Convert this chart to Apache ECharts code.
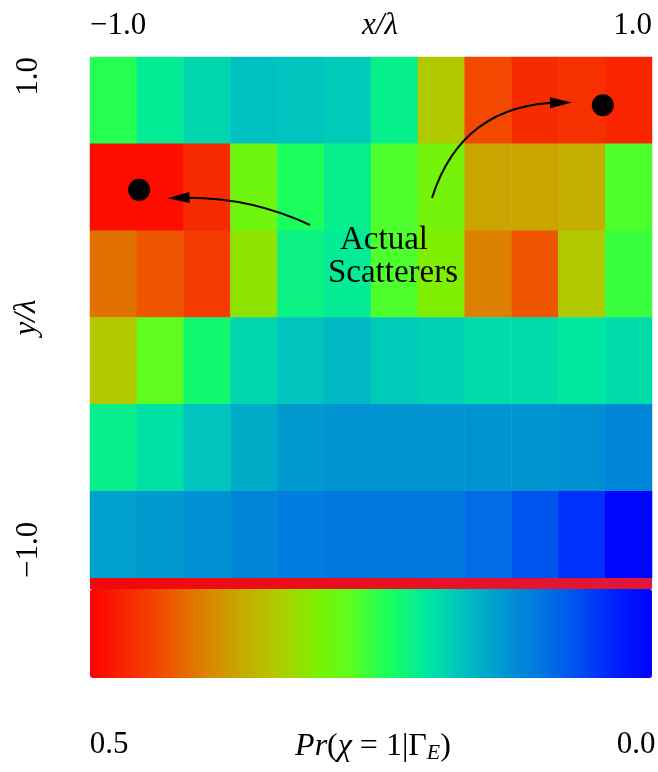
<!DOCTYPE html>
<html>
<head>
<meta charset="utf-8">
<script src="https://cdn.jsdelivr.net/npm/echarts@6/dist/echarts.min.js"></script>
<style>
  html, body { margin: 0; padding: 0; background: #fff; }
  #main { width: 658px; height: 772px; }
</style>
</head>
<body>
<div id="main"></div>
<script>
// heat map cells: 12 columns (left to right) x 6 rows (top to bottom)
var cols = ['c0', 'c1', 'c2', 'c3', 'c4', 'c5', 'c6', 'c7', 'c8', 'c9', 'c10', 'c11'];
var rows = ['r0', 'r1', 'r2', 'r3', 'r4', 'r5'];
var row0 = [0.24, 0.205, 0.185, 0.167, 0.17, 0.175, 0.21, 0.335, 0.44, 0.465, 0.46, 0.47];
var row1 = [0.49, 0.49, 0.465, 0.285, 0.235, 0.21, 0.26, 0.29, 0.37, 0.37, 0.36, 0.26];
var row2 = [0.41, 0.43, 0.45, 0.31, 0.215, 0.205, 0.26, 0.30, 0.40, 0.43, 0.335, 0.25];
var row3 = [0.335, 0.27, 0.225, 0.185, 0.17, 0.16, 0.175, 0.18, 0.19, 0.19, 0.20, 0.19];
var row4 = [0.21, 0.195, 0.17, 0.15, 0.135, 0.13, 0.13, 0.13, 0.13, 0.13, 0.125, 0.115];
var row5 = [0.14, 0.135, 0.125, 0.115, 0.105, 0.10, 0.10, 0.10, 0.09, 0.07, 0.045, 0.005];
var cellRows = [row0, row1, row2, row3, row4, row5];

// scatterer positions and arrows, in x/lambda, y/lambda
var scatterers = [[-0.825, 0.49], [0.825, 0.815]];
var arrowFrom = [[-0.217, 0.355], [0.217, 0.459]];
var arrowTo = [[-0.685, 0.459], [0.676, 0.825]];
var arrowBend = [-0.12, 0.36];

var axisTicks = ['\u22121.0', '1.0'];
var barTicks = ['0.5', '0.0'];

// colour scale from 0.0 (blue) to 0.5 (red)
var palette = ['#0000ff', '#0020ff', '#0050f0', '#0078e0', '#0098d0', '#00c0c0', '#00e8a0', '#18ff60',
  '#5aff20', '#80ee00', '#b0cc00', '#c8a800', '#dc8000', '#f05000', '#f82800', '#ff0000'];

var heat = [];
for (var r = 0; r < cellRows.length; r++) {
  for (var c = 0; c < cols.length; c++) {
    heat.push([c, r, cellRows[r][c]]);
  }
}
var arrows = [];
for (var i = 0; i < arrowFrom.length; i++) {
  arrows.push({ coords: [arrowFrom[i], arrowTo[i]], lineStyle: { curveness: arrowBend[i] } });
}

var serif = 'Liberation Serif';
function tickText(v) {
  return v < 0 ? axisTicks[0] : axisTicks[1];
}

var chart = echarts.init(document.getElementById('main'));
var option = {
  backgroundColor: '#fff',
  animation: false,
  grid: { left: 90, top: 57, width: 562, height: 521, containLabel: false, outerBoundsMode: 'none' },
  xAxis: [
    { type: 'category', data: cols, show: false, position: 'bottom' },
    {
      type: 'value', min: -1, max: 1, interval: 2, position: 'top',
      name: 'x/\u03bb', nameLocation: 'middle', nameGap: 16, nameMoveOverlap: false,
      nameTextStyle: { fontFamily: serif, fontSize: 31, fontStyle: 'italic', color: '#000', padding: [0, 0, 0, 18] },
      axisLine: { show: false }, axisTick: { show: false }, splitLine: { show: false },
      axisLabel: {
        formatter: tickText, margin: 16, fontFamily: serif, fontSize: 31, color: '#000',
        alignMinLabel: 'left', alignMaxLabel: 'right'
      }
    }
  ],
  yAxis: [
    { type: 'category', data: rows, inverse: true, show: false, position: 'right' },
    {
      type: 'value', min: -1, max: 1, interval: 2, position: 'left',
      name: 'y/\u03bb', nameLocation: 'middle', nameGap: 48, nameRotate: 90, nameMoveOverlap: false,
      nameTextStyle: { fontFamily: serif, fontSize: 31, fontStyle: 'italic', color: '#000' },
      axisLine: { show: false }, axisTick: { show: false }, splitLine: { show: false },
      axisLabel: {
        formatter: tickText, rotate: 90, margin: 46, fontFamily: serif, fontSize: 31, color: '#000',
        alignMinLabel: 'left', alignMaxLabel: 'right'
      }
    }
  ],
  visualMap: {
    type: 'continuous', seriesIndex: 0, min: 0, max: 0.5,
    orient: 'horizontal', inverse: true, calculable: false,
    left: 90, top: 589, padding: 0,
    itemWidth: 89, itemHeight: 562,
    text: null, showLabel: false,
    inRange: { color: palette }
  },
  graphic: [
    {
      type: 'rect', shape: { x: 90, y: 578, width: 562, height: 11 }, z: 100,
      style: {
        fill: new echarts.graphic.LinearGradient(0, 0, 1, 0, [
          { offset: 0, color: '#f20808' }, { offset: 1, color: '#e0183a' }
        ])
      }
    },
    { type: 'text', x: 384, y: 240, z: 100, style: { text: 'Actual', font: '33px "' + serif + '"', fill: '#000', align: 'center', verticalAlign: 'middle' } },
    { type: 'text', x: 393, y: 273, z: 100, style: { text: 'Scatterers', font: '33px "' + serif + '"', fill: '#000', align: 'center', verticalAlign: 'middle' } },
    { type: 'text', x: 109, y: 745, style: { text: barTicks[0], font: '31px "' + serif + '"', fill: '#000', align: 'center', verticalAlign: 'middle' } },
    { type: 'text', x: 636, y: 745, style: { text: barTicks[1], font: '31px "' + serif + '"', fill: '#000', align: 'center', verticalAlign: 'middle' } },
    {
      type: 'text', x: 373, y: 747,
      style: {
        text: '{it|Pr}({it|\u03c7} = 1|\u0393{sub|E})',
        font: '32px "' + serif + '"', fill: '#000', align: 'center', verticalAlign: 'middle',
        rich: {
          it: { fontFamily: serif, fontSize: 32, fontStyle: 'italic', lineHeight: 34 },
          sub: { fontFamily: serif, fontSize: 22, fontStyle: 'italic', verticalAlign: 'bottom', lineHeight: 22 }
        }
      }
    }
  ],
  series: [
    {
      type: 'heatmap', xAxisIndex: 0, yAxisIndex: 0, data: heat,
      itemStyle: { borderWidth: 0 }, emphasis: { disabled: true }
    },
    {
      type: 'lines', coordinateSystem: 'cartesian2d', xAxisIndex: 1, yAxisIndex: 1,
      data: arrows, symbol: ['none', 'triangle'], symbolSize: [1, [11, 22]],
      lineStyle: { color: '#000', width: 2, opacity: 1 }, z: 5
    },
    {
      type: 'scatter', xAxisIndex: 1, yAxisIndex: 1, data: scatterers,
      symbol: 'circle', symbolSize: 22, itemStyle: { color: '#000', opacity: 1 }, z: 6
    }
  ]
};
chart.setOption(option);
</script>
</body>
</html>
